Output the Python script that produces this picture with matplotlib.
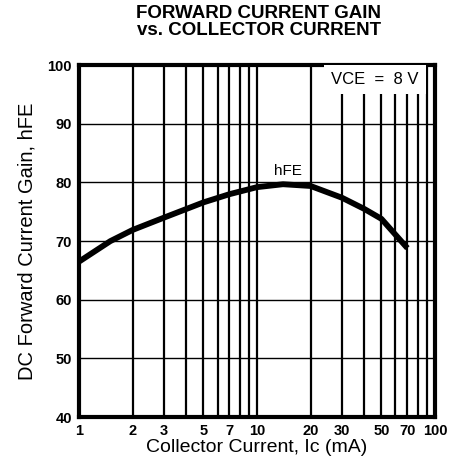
import matplotlib
matplotlib.use("Agg")
import matplotlib.pyplot as plt
from matplotlib.ticker import FixedLocator, NullFormatter

plt.rcParams['font.family'] = ['Liberation Sans', 'DejaVu Sans']

# data
ic_ma = [1, 1.5, 2, 3, 5, 7, 10, 14, 20, 30, 40, 50, 70]
hfe = [66.5, 70.0, 71.9, 74.0, 76.6, 78.0, 79.2, 79.7, 79.4, 77.4, 75.5, 73.8, 68.8]

x_ticks = [1, 2, 3, 5, 7, 10, 20, 30, 50, 70, 100]
x_grid = [1, 2, 3, 4, 5, 6, 7, 8, 9, 10, 20, 30, 40, 50, 60, 70, 80, 90, 100]
y_ticks = [40, 50, 60, 70, 80, 90, 100]

fig = plt.figure(figsize=(4.5, 4.71), dpi=100)
ax = fig.add_axes([0.1756, 0.1146, 0.791, 0.747])

ax.set_xscale('log')
ax.set_xlim(1, 100)
ax.set_ylim(40, 100)

# grid
for g in x_grid:
    ax.axvline(g, color='black', lw=1.6, zorder=1)
for g in y_ticks:
    ax.axhline(g, color='black', lw=1.0, zorder=1)

ax.plot(ic_ma, hfe, color='black', lw=4.2, solid_capstyle='butt', zorder=3)

ax.xaxis.set_major_locator(FixedLocator(x_ticks))
ax.xaxis.set_minor_formatter(NullFormatter())
ax.set_xticks(x_ticks)
ax.set_xticklabels([str(v) for v in x_ticks], fontweight='bold', fontsize=10.5)
ax.set_yticks(y_ticks)
ax.set_yticklabels([str(v) for v in y_ticks], fontweight='bold', fontsize=10.5)
ax.tick_params(which='both', length=0, pad=5)

for s in ax.spines.values():
    s.set_linewidth(3.0)

ax.text(15, 80.7, 'hFE', ha='center', va='bottom', fontsize=11, zorder=4)
ax.text(46, 97.6, 'VCE  =  8 V', ha='center', va='center', fontsize=12, zorder=4,
        bbox=dict(facecolor='white', edgecolor='none', pad=5))

ax.set_xlabel('Collector Current, Ic (mA)', fontsize=14, labelpad=1)
ax.set_ylabel('DC Forward Current Gain, hFE', fontsize=14.5, labelpad=8)

fig.text(0.575, 0.953, 'FORWARD CURRENT GAIN\nvs. COLLECTOR CURRENT', ha='center',
         va='center', fontsize=13.5, fontweight='bold', linespacing=1.0)

fig.savefig('out.png', dpi=100)
